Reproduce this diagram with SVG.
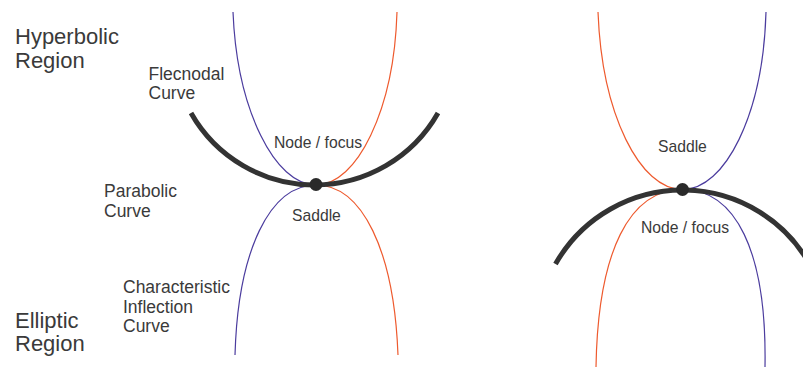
<svg xmlns="http://www.w3.org/2000/svg" width="803" height="370" viewBox="0 0 803 370">
<style>
.big{font-family:"Liberation Sans",Arial,sans-serif;font-size:22px;fill:#3a3a3a}
.lbl{font-family:"Liberation Sans",Arial,sans-serif;font-size:17.5px;fill:#3a3a3a}
.in{font-family:"Liberation Sans",Arial,sans-serif;font-size:15.7px;fill:#3a3a3a}
.thick{fill:none;stroke:#333;stroke-width:5}
.pu{fill:none;stroke:#4B3C9E;stroke-width:1.2}
.or{fill:none;stroke:#EE5A2E;stroke-width:1.2}
.dot{fill:#2a2a2a}
</style>
<rect width="803" height="370" fill="#fff"/>
<g id="region-labels">
<text class="big" x="15" y="43.5">Hyperbolic</text>
<text class="big" x="15" y="68">Region</text>
<text class="big" x="15" y="327.5">Elliptic</text>
<text class="big" x="15" y="351">Region</text>
</g>
<g id="curve-labels">
<text class="lbl" x="148.5" y="79.5">Flecnodal</text>
<text class="lbl" x="148.5" y="99">Curve</text>
<text class="lbl" x="104" y="197">Parabolic</text>
<text class="lbl" x="104" y="216.5">Curve</text>
<text class="lbl" x="123" y="293">Characteristic</text>
<text class="lbl" x="123" y="312.5">Inflection</text>
<text class="lbl" x="123" y="332">Curve</text>
</g>
<g id="left-figure">
<path class="pu" d="M233,12 C237,110 275,185 316,185"/>
<path class="or" d="M397,12 C394,110 357,185 316,185"/>
<path class="pu" d="M316,185 C270,185 238,250 235,355"/>
<path class="or" d="M316,185 C362,185 394,250 398,355"/>
<path class="thick" d="M191,113 A142,142 0 0 0 438,113"/>
<circle class="dot" cx="316" cy="184.5" r="6.5"/>
<text class="in" x="274" y="148.3">Node / focus</text>
<text class="in" x="292" y="221">Saddle</text>
</g>
<g id="right-figure">
<path class="or" d="M598,12 C602,115 640,189.5 682.5,189.5"/>
<path class="pu" d="M766,12 C763,115 725,189.5 682.5,189.5"/>
<path class="or" d="M682.5,189.5 C630,189.5 598,250 596,367"/>
<path class="pu" d="M682.5,189.5 C735,189.5 767,250 765,367"/>
<path class="thick" d="M555.5,264 A146,146 0 0 1 812,268.6"/>
<circle class="dot" cx="682.5" cy="189.5" r="6.5"/>
<text class="in" x="658" y="152">Saddle</text>
<text class="in" x="641" y="233">Node / focus</text>
</g>
</svg>
